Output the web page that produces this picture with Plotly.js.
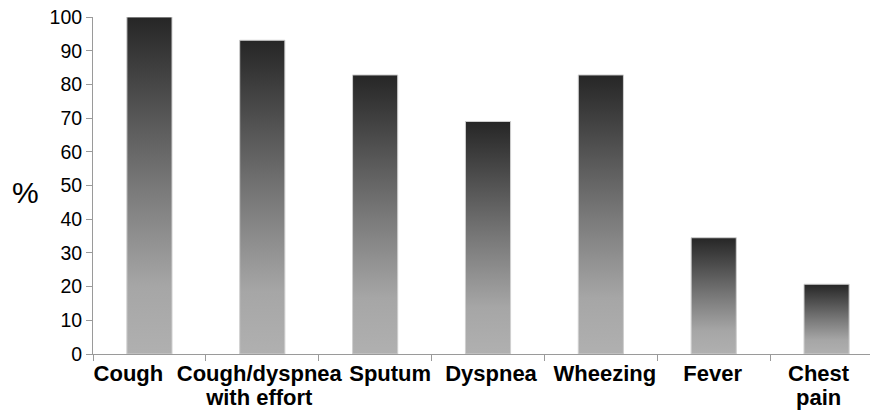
<!DOCTYPE html>
<html>
<head>
<meta charset="utf-8">
<script src="https://cdn.plot.ly/plotly-3.0.1.min.js"></script>
<style>
html, body { margin: 0; padding: 0; background: #fff; overflow: hidden; }
#chart { width: 890px; height: 412px; }
</style>
</head>
<body>
<div id="chart"></div>
<script>
const categories = ['Cough', 'Cough/dyspnea<br>with effort', 'Sputum', 'Dyspnea', 'Wheezing', 'Fever', 'Chest<br>pain'];
const percentValues = [100, 93.1, 82.8, 69.0, 82.8, 34.5, 20.7];
const yTickValues = [0, 10, 20, 30, 40, 50, 60, 70, 80, 90, 100];

// horizontal nudges of the category labels, as placed in the original figure (pixels)
const labelNudges = [-21, -3, 15, 3, 4, -1, -8];

const trace = {
  type: 'bar',
  x: categories,
  y: percentValues,
  width: 0.4,
  marker: { color: '#777777', line: { color: '#cfcfcf', width: 1 } },
  hoverinfo: 'x+y'
};

const layout = {
  width: 890,
  height: 412,
  margin: { l: 93, r: 7, t: 17, b: 58 },
  paper_bgcolor: '#ffffff',
  plot_bgcolor: '#ffffff',
  showlegend: false,
  font: { family: 'Liberation Sans, Arial, sans-serif', color: '#000000' },
  xaxis: {
    type: 'category',
    range: [-0.5, 6.5],
    showline: true,
    linecolor: '#9a9a9a',
    linewidth: 1,
    ticks: 'outside',
    tickson: 'boundaries',
    ticklen: 6,
    tickcolor: '#9a9a9a',
    tickangle: 0,
    showgrid: false,
    zeroline: false,
    tickfont: { family: 'Liberation Sans, Arial, sans-serif', size: 22, color: '#000000', weight: 'bold' },
    fixedrange: true
  },
  yaxis: {
    range: [0, 100],
    tickvals: yTickValues,
    ticktext: yTickValues.map(String),
    showline: true,
    linecolor: '#9a9a9a',
    linewidth: 1,
    ticks: 'outside',
    ticklen: 6,
    tickcolor: '#9a9a9a',
    showgrid: false,
    zeroline: false,
    tickfont: { family: 'Liberation Sans, Arial, sans-serif', size: 19.5, color: '#000000' },
    fixedrange: true
  },
  annotations: [{
    text: '%',
    xref: 'paper', yref: 'paper',
    x: -0.086, y: 0.48,
    xanchor: 'center', yanchor: 'middle',
    showarrow: false,
    font: { family: 'Liberation Sans, Arial, sans-serif', size: 30, color: '#000000' }
  }]
};

function decorate(gd) {
  const svgNS = 'http://www.w3.org/2000/svg';
  const svg = gd.querySelector('.main-svg');
  let defs = svg.querySelector('defs');
  if (!defs) { defs = document.createElementNS(svgNS, 'defs'); svg.insertBefore(defs, svg.firstChild); }
  if (!document.getElementById('barGrad')) {
    const grad = document.createElementNS(svgNS, 'linearGradient');
    grad.setAttribute('id', 'barGrad');
    grad.setAttribute('x1', '0'); grad.setAttribute('y1', '0');
    grad.setAttribute('x2', '0'); grad.setAttribute('y2', '1');
    [['0', '#262626'], ['0.5', '#787878'], ['0.8', '#a6a6a6'], ['1', '#b0b0b0']].forEach(function (s) {
      const st = document.createElementNS(svgNS, 'stop');
      st.setAttribute('offset', s[0]);
      st.setAttribute('stop-color', s[1]);
      grad.appendChild(st);
    });
    defs.appendChild(grad);
  }
  gd.querySelectorAll('.bars .point path').forEach(function (p) {
    p.style.fill = 'url(#barGrad)';
  });
  const texts = Array.from(gd.querySelectorAll('.xtick text'));
  texts.forEach(function (t) {
    if (t.getAttribute('data-nudged')) return;
    const label = t.textContent;
    let idx = -1;
    categories.forEach(function (c, i) { if (c.replace('<br>', '') === label) idx = i; });
    if (idx < 0) return;
    const d = labelNudges[idx];
    const x0 = parseFloat(t.getAttribute('x') || '0');
    t.setAttribute('x', x0 + d);
    t.querySelectorAll('tspan.line').forEach(function (ln, k) {
      if (ln.hasAttribute('x')) ln.setAttribute('x', parseFloat(ln.getAttribute('x')) + d);
      if (k > 0) ln.setAttribute('dy', '1.05em');
    });
    t.setAttribute('data-nudged', '1');
  });
}

Plotly.newPlot('chart', [trace], layout, { displayModeBar: false, staticPlot: true }).then(function (gd) {
  decorate(gd);
  setTimeout(function () { decorate(gd); }, 50);
  gd.on('plotly_afterplot', function () { decorate(gd); });
});
</script>
</body>
</html>
